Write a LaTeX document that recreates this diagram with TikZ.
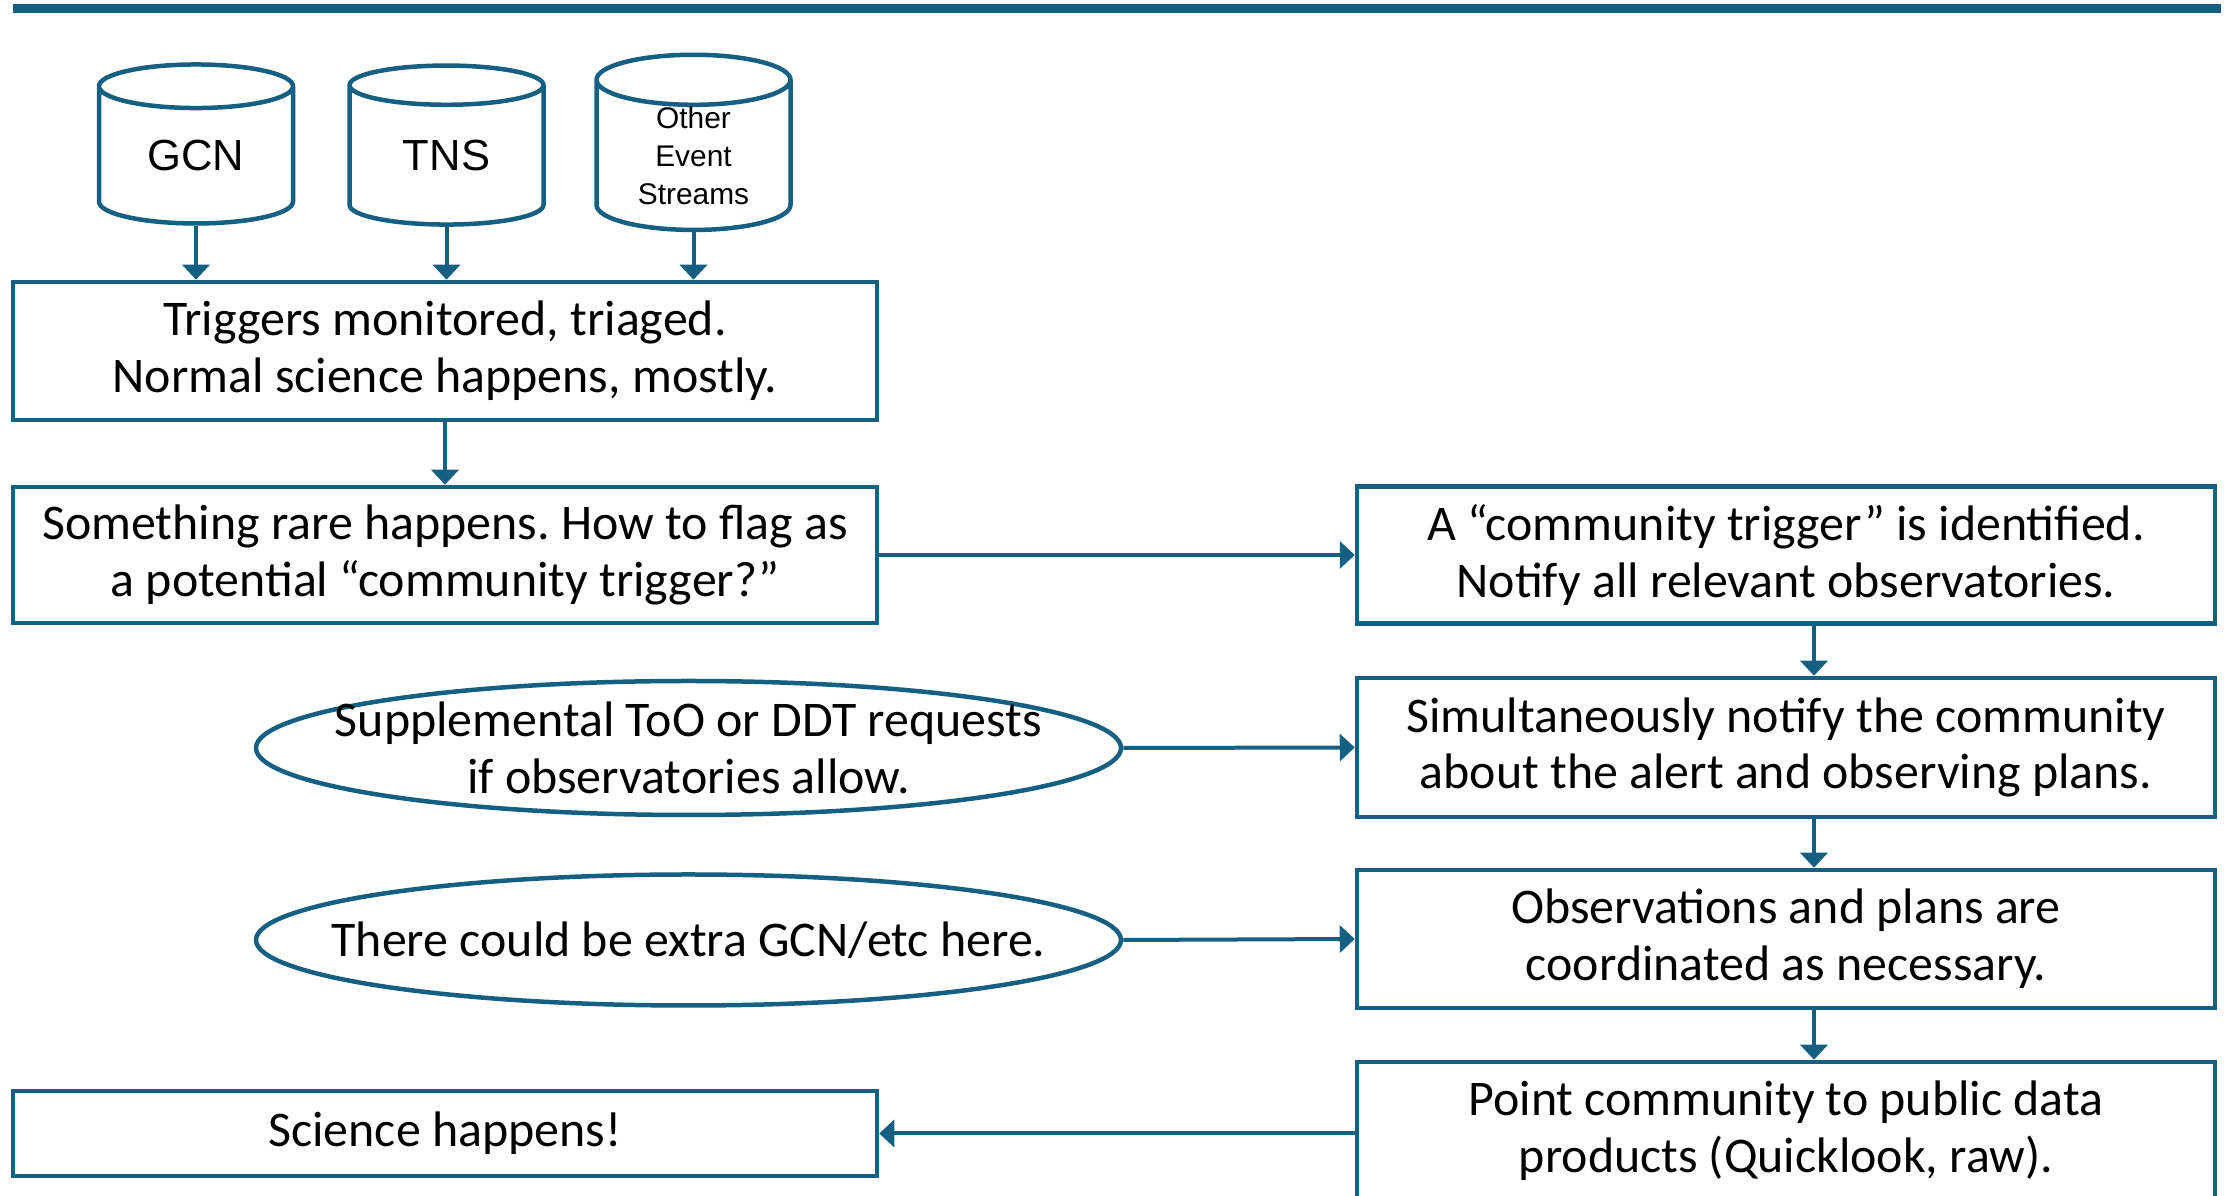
\documentclass[tikz,border=0pt]{standalone}
\usepackage{fontspec}
\setmainfont{Carlito}
\newfontfamily\cylfont{Liberation Sans}
\usetikzlibrary{shapes.geometric,arrows.meta}
\definecolor{flowblue}{HTML}{156082}
\frenchspacing
\begin{document}
\begin{tikzpicture}[
		box/.style={draw=flowblue,line width=0.045cm,rectangle,inner sep=0pt,align=center,
			minimum width=8.64cm,font=\fontsize{14.2}{16.2}\selectfont},
		rbox/.style={box,minimum width=8.58cm,minimum height=1.37cm},
		oval/.style={draw=flowblue,line width=0.045cm,ellipse,inner sep=0pt,
			minimum width=8.65cm},
		lbl/.style={align=center,font=\fontsize{14.2}{16.2}\selectfont},
		db/.style={draw=flowblue,line width=0.045cm,cylinder,shape border rotate=90,
			aspect=0.45,inner sep=0pt,minimum width=1.94cm,minimum height=1.59cm,
			align=center,font=\cylfont\fontsize{12.4}{14}\selectfont},
		flow/.style={draw=flowblue,line width=0.04cm,-{Triangle[length=0.15cm,width=0.27cm]}}]
		\useasboundingbox (0,0) rectangle (22.33,-11.96);
		\draw[flowblue,line width=0.09cm] (0.13,-0.085) -- (22.21,-0.085);
		
		% event sources
		\node[db] (gcn) at (1.96,-1.56) {GCN};
		\node[db] (tns) at (4.465,-1.56) {TNS};
		\node[db,font=\cylfont\fontsize{8.5}{10.8}\selectfont] (other) at (6.935,-1.56) {Other\\Event\\Streams};
		
		% left column
		\node[box,minimum height=1.38cm] (trig) at (4.45,-3.51) {Triggers monitored, triaged.\\Normal science happens, mostly.};
		\node[box,minimum height=1.36cm] (rare) at (4.45,-5.55) {Something rare happens. How to flag as\\a potential “community trigger?”};
		\node[oval,minimum height=1.34cm,label={[lbl]center:Supplemental ToO or DDT requests\\if observatories allow.}] (supp) at (6.885,-7.48) {};
		\node[oval,minimum height=1.31cm,label={[lbl]center:There could be extra GCN/etc here.}] (extra) at (6.885,-9.4) {};
		\node[box,minimum height=0.85cm] (sci) at (4.45,-11.335) {Science happens!};
		
		% right column
		\node[rbox] (ctrig) at (17.86,-5.55) {A “community trigger” is identified.\\Notify all relevant observatories.};
		\node[rbox,minimum height=1.39cm] (simul) at (17.86,-7.475) {Simultaneously notify the community\\about the alert and observing plans.};
		\node[rbox,minimum height=1.38cm] (obs) at (17.86,-9.39) {Observations and plans are\\coordinated as necessary.};
		\node[rbox,minimum height=1.38cm] (point) at (17.86,-11.31) {Point community to public data\\products (Quicklook, raw).};
		\coordinate (rx) at (18.14,0);
		
		\foreach \src in {gcn,tns,other}
		\draw[flow] (\src.south) -- (\src.south |- trig.north);
		\draw[flow] (trig) -- (rare);
		\draw[flow] (rare) -- (ctrig);
		\draw[flow] (ctrig.south -| rx) -- (simul.north -| rx);
		\draw[flow] (simul.south -| rx) -- (obs.north -| rx);
		\draw[flow] (obs.south -| rx) -- (point.north -| rx);
		\draw[flow] (supp.east) -- (simul.west);
		\draw[flow] (extra.east) -- (obs.west);
		\draw[flow] (point.west |- sci.east) -- (sci.east);
	\end{tikzpicture}
\end{document}
